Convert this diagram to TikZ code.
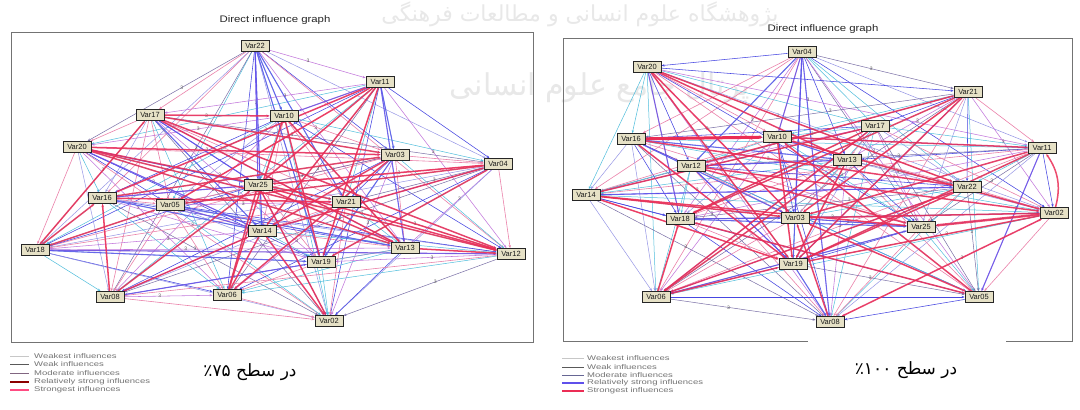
\documentclass[tikz,border=0pt]{standalone}
\usepackage{fontspec}
\setmainfont{Liberation Sans}
\newfontfamily\arabicfont[Script=Arabic]{DejaVu Sans}
\newfontfamily\legfont[FakeStretch=1.4]{Liberation Sans}
\newfontfamily\titfont[FakeStretch=1.2]{Liberation Sans}
\TeXXeTstate=1
\usetikzlibrary{arrows.meta}
\pgfdeclarelayer{back}
\pgfdeclarelayer{edges}
\pgfsetlayers{back,edges,main}
\definecolor{nodefill}{RGB}{230,225,198}
\definecolor{ceA}{RGB}{150,150,230}
\definecolor{ceB}{RGB}{70,70,225}
\definecolor{ceC}{RGB}{120,110,165}
\definecolor{ceD}{RGB}{80,190,220}
\definecolor{ceE}{RGB}{235,130,170}
\definecolor{ceF}{RGB}{195,120,220}
\definecolor{cred}{RGB}{235,45,85}
\definecolor{cblue}{RGB}{95,80,235}
\newcommand\panelL{L22,L11,L17,L10,L20,L03,L04,L25,L16,L05,L21,L14,L18,L13,L12,L19,L08,L06,L02}
\newcommand\panelR{R04,R20,R21,R17,R16,R10,R11,R13,R12,R22,R14,R18,R03,R02,R25,R19,R06,R05,R08}
% checks whether the label point (\px,\py) is clear of all nodes in list #1
\newcommand\labelclear[1]{%
  \gdef\lok{1}%
  \pgfmathtruncatemacro\inwm{and(and(\px>440,\px<760),and(\py>-112,\py<-62))}%
  \ifnum\inwm=1 \gdef\lok{0}\fi
  \foreach \c in #1 {%
    \pgfpointanchor{\c}{center}\pgfgetlastxy\xc\yc
    \pgfmathtruncatemacro\near{and(abs(\px-\xc)<20,abs(\py-\yc)<10)}%
    \ifnum\near=1 \gdef\lok{0}\fi
  }%
}
\begin{document}
\begin{tikzpicture}[x=1pt,y=-1pt,
  vn/.style={draw=black!85, line width=0.9pt, fill=nodefill, text=black!90,
    font=\fontsize{7.5}{8}\selectfont, minimum width=28pt, minimum height=11pt, inner sep=1pt},
  frame/.style={draw=black!55, line width=1pt},
  title/.style={font=\titfont\fontsize{9.5}{10}\selectfont, text=black!85},
  lbl/.style={font=\fontsize{5}{5}\selectfont, text=black!65, inner sep=0.5pt},
  tip/.style={-{Stealth[length=3pt,width=2.4pt]}},
  e0/.style={tip, draw=ceA, line width=0.5pt},
  e1/.style={tip, draw=ceB, line width=0.55pt},
  e2/.style={tip, draw=ceC, line width=0.5pt},
  e3/.style={tip, draw=ceD, line width=0.5pt},
  e4/.style={tip, draw=ceE, line width=0.6pt},
  e5/.style={tip, draw=ceF, line width=0.55pt},
  sred/.style={tip, draw=cred, line width=1.5pt, opacity=0.85},
  sredx/.style={tip, draw=cred, line width=3pt},
  sblue/.style={tip, draw=cblue, line width=1.1pt, opacity=0.8},
  leg/.style={font=\legfont\fontsize{6.8}{7}\selectfont, text=black!55, anchor=west, inner sep=0pt},
  captext/.style={font=\arabicfont\fontsize{17}{19}\selectfont, text=black},
  wm/.style={font=\arabicfont\fontsize{22}{24}\selectfont, text=black!9}
]
\useasboundingbox (0,0) rectangle (1080,410);
\begin{pgfonlayer}{back}
  \fill[white] (0,0) rectangle (1080,410);
  \node[wm] (wm1) at (580,14) {\beginR پژوهشگاه علوم انسانی و مطالعات فرهنگی\endR};
  \node[wm, font=\arabicfont\fontsize{30}{32}\selectfont] (wm2) at (600,88) {\beginR پرتال جامع علوم انسانی\endR};
  \draw[frame] (11,32) rectangle (533,342);
  \draw[frame] (563,38) rectangle (1072,341);
  \fill[white] (808,339) rectangle (1006,410);
\end{pgfonlayer}

% titles
\node[title] (t1) at (275,20) {Direct influence graph};
\node[title] (t2) at (823,29) {Direct influence graph};

% left panel nodes
\node[vn] (L22) at (255,46) {Var22};
\node[vn] (L11) at (380,82) {Var11};
\node[vn] (L17) at (150,115) {Var17};
\node[vn] (L10) at (284,116) {Var10};
\node[vn] (L20) at (77,147) {Var20};
\node[vn] (L03) at (395,155) {Var03};
\node[vn] (L04) at (498,164) {Var04};
\node[vn] (L25) at (258,185) {Var25};
\node[vn] (L16) at (102,198) {Var16};
\node[vn] (L05) at (170,205) {Var05};
\node[vn] (L21) at (346,202) {Var21};
\node[vn] (L14) at (262,231) {Var14};
\node[vn] (L18) at (35,250) {Var18};
\node[vn] (L13) at (405,248) {Var13};
\node[vn] (L12) at (511,254) {Var12};
\node[vn] (L19) at (321,262) {Var19};
\node[vn] (L08) at (110,297) {Var08};
\node[vn] (L06) at (227,295) {Var06};
\node[vn] (L02) at (329,321) {Var02};

% right panel nodes
\node[vn] (R04) at (802,52) {Var04};
\node[vn] (R20) at (647,67) {Var20};
\node[vn] (R21) at (968,92) {Var21};
\node[vn] (R17) at (875,126) {Var17};
\node[vn] (R16) at (631,139) {Var16};
\node[vn] (R10) at (777,137) {Var10};
\node[vn] (R11) at (1042,148) {Var11};
\node[vn] (R13) at (847,160) {Var13};
\node[vn] (R12) at (691,166) {Var12};
\node[vn] (R22) at (967,187) {Var22};
\node[vn] (R14) at (586,195) {Var14};
\node[vn] (R18) at (680,219) {Var18};
\node[vn] (R03) at (795,218) {Var03};
\node[vn] (R02) at (1054,213) {Var02};
\node[vn] (R25) at (921,227) {Var25};
\node[vn] (R19) at (793,264) {Var19};
\node[vn] (R06) at (656,297) {Var06};
\node[vn] (R05) at (979,297) {Var05};
\node[vn] (R08) at (830,322) {Var08};

\begin{pgfonlayer}{edges}
  \foreach \a [count=\i] in \panelL {
    \foreach \b [count=\j] in \panelL {
      \ifnum\j>\i
        \pgfpointanchor{\a}{center}\pgfgetlastxy\xa\ya
        \pgfpointanchor{\b}{center}\pgfgetlastxy\xb\yb
        \pgfmathtruncatemacro\far{veclen(\xb-\xa,\yb-\ya)>110}
        \pgfmathsetmacro\px{\xa+0.4*(\xb-\xa)}
        \pgfmathsetmacro\py{\ya+0.4*(\yb-\ya)}
        \labelclear{\panelL}
        \pgfmathtruncatemacro\k{mod(\i*7+\j*11,6)}
        \pgfmathtruncatemacro\n{mod(\i+2*\j,3)+1}
        \ifnum\far=0 \gdef\lok{0}\fi
        \ifnum\lok=0 \ifnum\k=2 \def\k{3}\fi \ifnum\k=5 \def\k{4}\fi \fi
        \ifcase\k
          \draw[e0] (\a) -- (\b);
        \or \draw[e1] (\a) -- (\b);
        \or \draw[e2] (\a) -- node[lbl,pos=0.4] (la\i x\j) {\n} (\b);
        \or \draw[e3] (\a) -- (\b);
        \or \draw[e4] (\a) -- (\b);
        \or \draw[e5] (\a) -- node[lbl,pos=0.4] (lb\i x\j) {\n} (\b);
        \fi
      \fi
    }
  }
  \foreach \a [count=\i] in \panelR {
    \foreach \b [count=\j] in \panelR {
      \ifnum\j>\i
        \pgfpointanchor{\a}{center}\pgfgetlastxy\xa\ya
        \pgfpointanchor{\b}{center}\pgfgetlastxy\xb\yb
        \pgfmathtruncatemacro\far{veclen(\xb-\xa,\yb-\ya)>110}
        \pgfmathsetmacro\px{\xa+0.4*(\xb-\xa)}
        \pgfmathsetmacro\py{\ya+0.4*(\yb-\ya)}
        \labelclear{\panelR}
        \pgfmathtruncatemacro\k{mod(\i*5+\j*13,6)}
        \pgfmathtruncatemacro\n{mod(2*\i+\j,3)+1}
        \ifnum\far=0 \gdef\lok{0}\fi
        \ifnum\lok=0 \ifnum\k=2 \def\k{3}\fi \ifnum\k=5 \def\k{4}\fi \fi
        \ifcase\k
          \draw[e0] (\a) -- (\b);
        \or \draw[e1] (\a) -- (\b);
        \or \draw[e2] (\a) -- node[lbl,pos=0.4] (ra\i x\j) {\n} (\b);
        \or \draw[e3] (\a) -- (\b);
        \or \draw[e4] (\a) -- (\b);
        \or \draw[e5] (\a) -- node[lbl,pos=0.4] (rb\i x\j) {\n} (\b);
        \fi
      \fi
    }
  }
  \foreach \a/\b in {L22/L14, L22/L19, L22/L25, L11/L13, L18/L19, L16/L25, L05/L14, L17/L25,
      L03/L19, L20/L25, L11/L03, L18/L12, L08/L19, L05/L13, L22/L21, L22/L10, L17/L14, L20/L14,
      L16/L14, L11/L10}
    \draw[sblue] (\a) -- (\b);
  \foreach \a/\b in {L17/L10, L17/L03, L20/L03, L20/L21, L16/L21, L16/L03, L11/L25, L11/L14,
      L11/L05, L11/L16, L13/L12, L21/L12, L14/L06, L14/L02, L25/L02, L18/L17, L18/L16, L08/L16,
      L08/L25, L08/L14, L20/L13, L17/L12, L10/L13, L04/L14, L04/L19, L12/L25, L06/L25, L10/L19,
      L03/L14, L04/L25, L18/L05, L06/L10, L20/L12, L17/L13, L25/L13, L11/L19, L03/L06, L04/L05}
    \draw[sred] (\a) -- (\b);
  \foreach \a/\b in {R04/R19, R04/R03, R04/R10, R16/R03, R12/R19, R18/R03, R14/R22, R19/R08,
      R03/R25, R10/R13, R20/R18, R04/R08, R11/R05, R06/R25, R04/R12, R16/R13, R12/R13, R18/R25}
    \draw[sblue] (\a) -- (\b);
  \foreach \a/\b in {R20/R03, R20/R19, R14/R03, R14/R19, R06/R18, R06/R19, R06/R13, R02/R03,
      R02/R10, R02/R19, R21/R03, R21/R19, R21/R18, R11/R03, R11/R19, R05/R03, R05/R10, R08/R03,
      R08/R02, R20/R13, R17/R14, R16/R22, R12/R02, R13/R19, R10/R19, R22/R19, R17/R06, R12/R25,
      R16/R19, R14/R25, R21/R12, R17/R18, R11/R10, R20/R22, R05/R18, R22/R06}
    \draw[sred] (\a) -- (\b);
  \draw[sred, line width=2.4pt] (R02) -- (R25);
  \draw[sred] (R02) to[bend right=25] (R11);
  \draw[sredx] (R16) -- (R10);
\end{pgfonlayer}

% legends
\coordinate (la1) at (10,356); \coordinate (lb1) at (29,356);
\coordinate (la2) at (10,364); \coordinate (lb2) at (29,364);
\coordinate (la3) at (10,373); \coordinate (lb3) at (29,373);
\coordinate (la4) at (10,382); \coordinate (lb4) at (29,382);
\coordinate (la5) at (10,390); \coordinate (lb5) at (29,390);
\draw[black!22, line width=0.5pt] (la1) -- (lb1);
\draw[black!65, line width=0.6pt] (la2) -- (lb2);
\draw[violet!35!black!60, line width=0.8pt] (la3) -- (lb3);
\draw[red!55!black, line width=1.3pt] (la4) -- (lb4);
\draw[red!70!magenta!70, line width=1.3pt] (la5) -- (lb5);
\node[leg] (lt1) at (34,356) {Weakest influences};
\node[leg] (lt2) at (34,364) {Weak influences};
\node[leg] (lt3) at (34,373) {Moderate influences};
\node[leg] (lt4) at (34,382) {Relatively strong influences};
\node[leg] (lt5) at (34,390) {Strongest influences};

\coordinate (ra1) at (562,358); \coordinate (rb1) at (584,358);
\coordinate (ra2) at (562,367); \coordinate (rb2) at (584,367);
\coordinate (ra3) at (562,375); \coordinate (rb3) at (584,375);
\coordinate (ra4) at (562,383); \coordinate (rb4) at (584,383);
\coordinate (ra5) at (562,391); \coordinate (rb5) at (584,391);
\draw[black!22, line width=0.5pt] (ra1) -- (rb1);
\draw[black!65, line width=0.6pt] (ra2) -- (rb2);
\draw[blue!30!black!60, line width=0.8pt] (ra3) -- (rb3);
\draw[cblue, line width=1.5pt] (ra4) -- (rb4);
\draw[cred, line width=1.2pt] (ra5) -- (rb5);
\node[leg] (rt1) at (587,358) {Weakest influences};
\node[leg] (rt2) at (587,367) {Weak influences};
\node[leg] (rt3) at (587,375) {Moderate influences};
\node[leg] (rt4) at (587,383) {Relatively strong influences};
\node[leg] (rt5) at (587,391) {Strongest influences};

% captions
\node[captext] (c1) at (250,372) {٪۷۵ \beginR در سطح\endR};
\node[captext] (c2) at (906,370) {٪۱۰۰ \beginR در سطح\endR};
\end{tikzpicture}
\end{document}
